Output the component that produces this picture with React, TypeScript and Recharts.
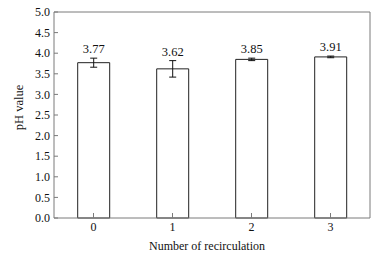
import { Bar, BarChart, CartesianGrid, ErrorBar, Label, XAxis, YAxis } from "recharts";

const cycles = ["0", "1", "2", "3"];
const phValues = [3.77, 3.62, 3.85, 3.91];
const phErrors = [0.11, 0.2, 0.03, 0.02];
const yTicks = [0, 0.5, 1, 1.5, 2, 2.5, 3, 3.5, 4, 4.5, 5];

const data = cycles.map((c, i) => ({ cycle: c, ph: phValues[i], err: phErrors[i] }));

const FONT = '"Liberation Serif", "Times New Roman", serif';
const AXIS = "#7a7a7a";
const INK = "#111";

// value printed just above the top of the error bar
function ValueLabel(props: any) {
  const { x, y, width, height, value, index } = props;
  const perUnit = height / value;
  const top = y - phErrors[index] * perUnit;
  return (
    <text x={x + width / 2} y={top - 5} textAnchor="middle" fontFamily={FONT} fontSize={12.5} fill={INK}>
      {value.toFixed(2)}
    </text>
  );
}

function YTitle() {
  const bx = 22.5;
  const by = 107.5;
  return (
    <text
      x={bx}
      y={by}
      transform={`rotate(-90 ${bx} ${by})`}
      textAnchor="middle"
      fontFamily={FONT}
      fontSize={12.5}
      fill={INK}
    >
      pH value
    </text>
  );
}

export default function App() {
  return (
    <div style={{ position: "absolute", left: 0, top: 0, background: "#fff" }}>
      <BarChart
        width={386}
        height={260}
        data={data}
        margin={{ top: 12, right: 16, bottom: 0, left: 0 }}
        barCategoryGap="30%"
      >
        {/* top and right edges of the frame */}
        <CartesianGrid
          stroke={AXIS}
          horizontalCoordinatesGenerator={({ offset }: any) => [offset.top]}
          verticalCoordinatesGenerator={({ offset }: any) => [offset.left + offset.width]}
        />
        <XAxis
          dataKey="cycle"
          height={42}
          stroke={AXIS}
          tickSize={-5}
          tickMargin={9}
          tickLine={{ stroke: AXIS }}
          tick={{ fontFamily: FONT, fontSize: 12, fill: INK }}
        >
          <Label
            value="Number of recirculation"
            position="insideBottom"
            offset={10}
            dx={-5}
            style={{ fontFamily: FONT, fontSize: 12, fill: INK }}
          />
        </XAxis>
        <YAxis
          width={54}
          domain={[0, 5]}
          ticks={yTicks}
          stroke={AXIS}
          tickSize={-4}
          tickMargin={8}
          tickFormatter={(v: number) => v.toFixed(1)}
          tick={{ fontFamily: FONT, fontSize: 12, fill: INK }}
        >
          <Label content={() => <YTitle />} />
        </YAxis>
        <Bar
          dataKey="ph"
          fill="#fff"
          stroke="#222"
          strokeWidth={1}
          isAnimationActive={false}
          label={(p: any) => <ValueLabel {...p} />}
        >
          <ErrorBar dataKey="err" width={3.5} stroke="#111" strokeWidth={1} isAnimationActive={false} />
        </Bar>
      </BarChart>
    </div>
  );
}
